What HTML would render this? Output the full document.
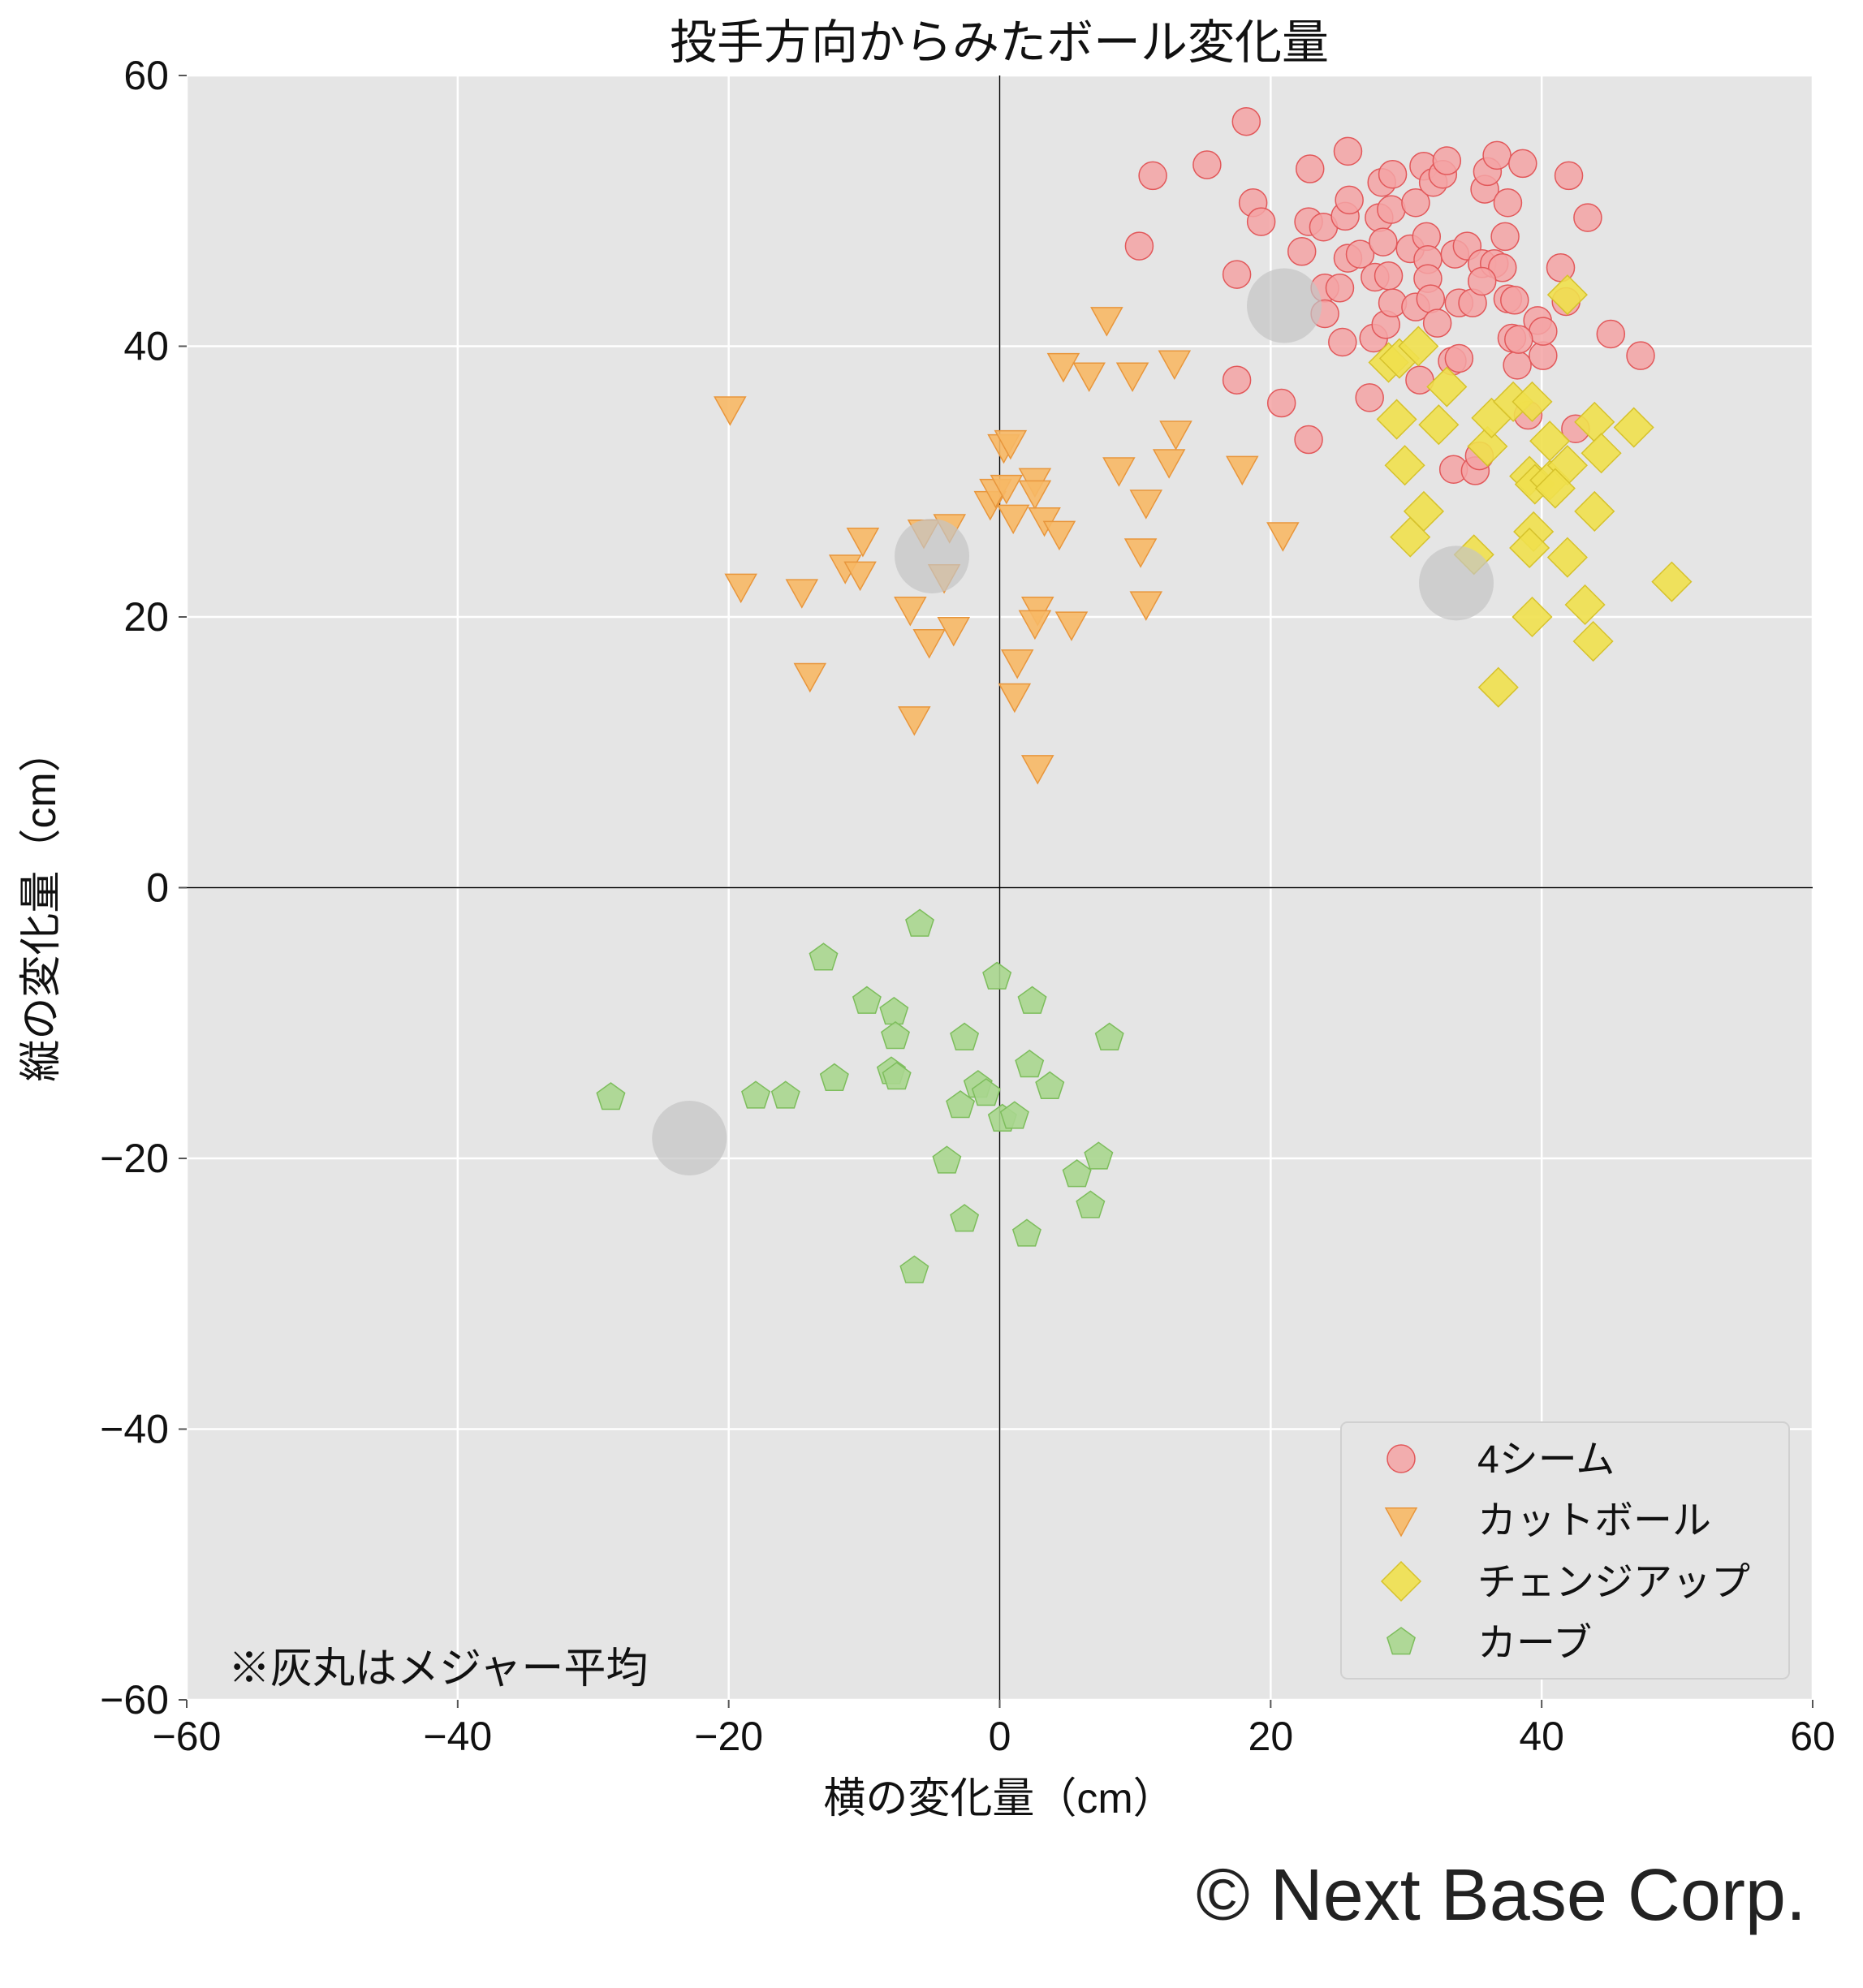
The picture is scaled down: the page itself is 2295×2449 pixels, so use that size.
<!DOCTYPE html>
<html><head><meta charset="utf-8">
<style>
html,body{margin:0;padding:0;background:#fff;}
svg{display:block;font-family:"Liberation Sans","Noto Sans CJK JP",sans-serif;}
</style></head>
<body>
<svg id="chart" width="2295" height="2449" viewBox="0 0 2295 2449" xmlns="http://www.w3.org/2000/svg">
<rect x="0" y="0" width="2295" height="2449" fill="#fff"/>
<text x="1231" y="72" font-size="58" text-anchor="middle" fill="#111">投手方向からみたボール変化量</text>
<rect x="230" y="93" width="2003" height="2001" fill="#e5e5e5"/>
<g id="grid"></g>
<g id="axes"></g>
<g id="marks"></g>
<text x="281" y="2073" font-size="52" fill="#111">※灰丸はメジャー平均</text>
<g>
<rect x="1652" y="1752" width="552" height="316" rx="8" fill="#e5e5e5" stroke="#d0d0d0" stroke-width="2"/>
<g id="legend-items"></g>
</g>
<text x="1231" y="2233" font-size="52" text-anchor="middle" fill="#111">横の変化量（cm）</text>
<text x="0" y="0" font-size="52" text-anchor="middle" fill="#111" transform="translate(68,1116) rotate(-90)">縦の変化量（cm）</text>
<text x="2225" y="2365" font-size="90" text-anchor="end" fill="#222">© Next Base Corp.</text>
</svg>
<script>
const xTicks=[-60,-40,-20,0,20,40,60];
const yTicks=[-60,-40,-20,0,20,40,60];
const fsX=[18.2,11.3,15.3,10.3,18.7,19.3,17.5,17.5,20.8,22.8,22.3,22.9,22.8,23.9,24,24,25.1,25.3,25.5,25.8,25.7,25.7,26.6,27.3,27.6,27.7,28,28.2,28.3,28.5,28.7,28.9,29,29,30.3,30.7,31,30.7,31.3,31.5,31.6,31.6,31.8,32,32.3,32.7,33,33.4,33.5,33.6,33.9,34.5,34.9,35.1,35.4,35.6,35.8,36,36.5,36.7,37.1,37.3,37.5,37.5,37.8,38,38.2,38.6,39,39.7,40.1,40.1,41.4,41.8,42,42.5,43.4,45.1,47.3,38.3,35.6,33.9];
const fsY=[56.6,52.6,53.4,47.4,50.6,49.2,45.3,37.5,35.8,33.1,47,53.1,49.2,48.8,44.3,42.4,44.3,40.3,49.6,50.8,54.4,46.5,46.8,36.2,40.6,45.1,49.5,52.1,47.7,41.6,45.2,50.1,52.7,43.2,47.2,42.9,37.5,50.6,53.3,48.1,46.4,45,43.5,52.1,41.7,52.7,53.7,38.9,30.9,46.8,43.2,47.4,43.2,30.8,31.9,46.1,51.6,52.9,46.1,54.1,45.8,48.1,50.6,43.5,40.6,43.4,38.6,53.5,34.9,41.9,39.3,41.1,45.8,43.3,52.6,33.9,49.5,40.9,39.3,40.5,44.8,39.1];
const ctX=[-19.9,-19.1,-14.6,-14,-11.4,-10.3,-10.1,-6.6,-6.3,-5.2,-5.6,-3.7,-4.1,-3.4,-0.7,-0.3,0.3,0.8,0.5,1,1.3,1.1,2.6,2.6,2.8,2.6,2.8,3.3,4.4,4.7,5.3,6.6,7.9,8.8,9.8,10.4,10.8,10.8,12.9,13,12.5,17.9,20.9];
const ctY=[35.4,22.3,21.9,15.7,23.7,23.2,25.7,20.6,12.5,18.2,26.3,26.7,23,19.1,28.4,29.3,32.6,32.9,29.6,27.4,16.7,14.2,30.1,29.2,20.6,19.6,8.9,27.2,26.2,38.6,19.5,37.9,42,30.9,37.9,24.9,28.5,21,38.8,33.6,31.5,31,26.1];
const chX=[41.9,28.7,29.5,30.9,29.3,29.9,31.3,30.3,32.4,33,35,36,36.3,37.9,39.3,39.1,39.5,39.4,39.1,39.3,36.8,40.6,40.6,41.9,41.9,43.2,43.8,43.9,43.9,44.4,46.8,49.6,41];
const chY=[43.8,38.8,39.1,40,34.6,31.2,27.8,25.9,34.2,37,24.6,32.6,34.7,35.9,35.9,30.4,29.8,26.3,25.1,20,14.8,33,30.1,31.2,24.4,20.9,18.2,27.8,34.4,32.1,34,22.6,29.5];
const cuX=[-28.7,-18,-15.8,-13,-12.2,-9.8,-7.8,-7.7,-8,-7.6,-5.9,-2.6,-2.9,-3.9,-2.6,-6.3,-1.6,-1,-0.2,0.2,1.1,2.4,2.2,3.7,2,5.7,7.3,6.7,8.1];
const cuY=[-15.5,-15.4,-15.4,-5.2,-14.1,-8.4,-9.2,-11,-13.6,-14,-2.7,-11.1,-16.1,-20.2,-24.5,-28.3,-14.6,-15.2,-6.6,-17.1,-16.9,-8.4,-13.1,-14.7,-25.6,-21.2,-19.9,-23.5,-11.1];
const avgX=[21,-5,33.7,-22.9];
const avgY=[43,24.5,22.5,-18.5];
const legendLabels=["4シーム","カットボール","チェンジアップ","カーブ"];

const L=230,R=2233,T=93,B=2094;
const sx=v=>L+(v+60)/120*(R-L);
const sy=v=>B-(v+60)/120*(B-T);
const NS="http://www.w3.org/2000/svg";
function mk(tag,parent,attrs){const e=document.createElementNS(NS,tag);for(const k in attrs)e.setAttribute(k,attrs[k]);parent.appendChild(e);return e;}
const grid=document.getElementById('grid'),axes=document.getElementById('axes'),marks=document.getElementById('marks');
xTicks.forEach(t=>{
  const g=mk('line',grid,{x1:sx(t),x2:sx(t),y1:T,y2:B,stroke:'#fff','stroke-width':2.5});
  
  
  const tk=mk('line',axes,{x1:sx(t),x2:sx(t),y1:B,y2:B+10,stroke:'#555','stroke-width':2});
  
  
  const lb=mk('text',axes,{x:sx(t),y:B+62,'font-size':50,'text-anchor':'middle',fill:'#111'});
  lb.textContent=(t<0?'−'+(-t):t);
  
  
});
yTicks.forEach(t=>{
  const g=mk('line',grid,{x1:L,x2:R,y1:sy(t),y2:sy(t),stroke:'#fff','stroke-width':2.5});
  
  
  const tk=mk('line',axes,{x1:L-10,x2:L,y1:sy(t),y2:sy(t),stroke:'#555','stroke-width':2});
  
  
  const lb=mk('text',axes,{x:L-22,y:sy(t)+17,'font-size':50,'text-anchor':'end',fill:'#111'});
  lb.textContent=(t<0?'−'+(-t):t);
  
  
});
const zx=mk('line',grid,{x1:sx(0),x2:sx(0),y1:T,y2:B,stroke:'#000','stroke-width':1.5});


const zy=mk('line',grid,{x1:L,x2:R,y1:sy(0),y2:sy(0),stroke:'#000','stroke-width':1.5});



function shape(kind,cx,cy,parent){
  let e;
  if(kind==='circle'){e=mk('circle',parent,{cx:cx,cy:cy,r:17,fill:'#f4a3a5',stroke:'#e2585a','stroke-width':1.5,'fill-opacity':0.85});}
  else if(kind==='tri'){const s=19;e=mk('polygon',parent,{points:`${cx-s},${cy-s*0.75} ${cx+s},${cy-s*0.75} ${cx},${cy+s*1.05}`,fill:'#f7b865',stroke:'#e8963c','stroke-width':1.5,'fill-opacity':0.9});}
  else if(kind==='dia'){const s=24;e=mk('polygon',parent,{points:`${cx},${cy-s} ${cx+s},${cy} ${cx},${cy+s} ${cx-s},${cy}`,fill:'#efe04c',stroke:'#d6c22c','stroke-width':1.5,'fill-opacity':0.9});}
  else {const s=18;let p=[];for(let i=0;i<5;i++){const a=-Math.PI/2+i*2*Math.PI/5;p.push((cx+s*Math.cos(a)).toFixed(1)+','+(cy+s*Math.sin(a)).toFixed(1));}
    e=mk('polygon',parent,{points:p.join(' '),fill:'#a9d68e',stroke:'#7dbd5c','stroke-width':1.5,'fill-opacity':0.9});}
  return e;
}
fsX.forEach((v,i)=>{const e=shape('circle',sx(v),sy(fsY[i]),marks);
  
  });
ctX.forEach((v,i)=>{const e=shape('tri',sx(v),sy(ctY[i]),marks);
  
  });
chX.forEach((v,i)=>{const e=shape('dia',sx(v),sy(chY[i]),marks);
  
  });
cuX.forEach((v,i)=>{const e=shape('pent',sx(v),sy(cuY[i]),marks);
  
  });
avgX.forEach((v,i)=>{const e=mk('circle',marks,{cx:sx(v),cy:sy(avgY[i]),r:46,fill:'#c4c4c4','fill-opacity':0.7});
  
  });
const li=document.getElementById('legend-items');
const kinds=['circle','tri','dia','pent'];
const ly=[1797,1872,1948,2023];
legendLabels.forEach((t,i)=>{
  const g=mk('g',li,{});
  
  
  shape(kinds[i],1726,ly[i],g);
  const tx=mk('text',g,{x:1820,y:ly[i]+17,'font-size':48,fill:'#111'});
  tx.textContent=t;
});
</script>
</body></html>
